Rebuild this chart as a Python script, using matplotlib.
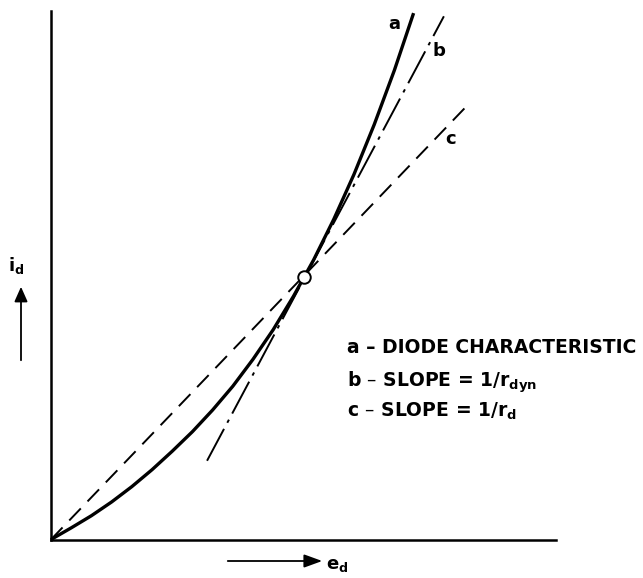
import matplotlib
matplotlib.use("Agg")
import matplotlib.pyplot as plt
from matplotlib.patches import FancyArrowPatch

plt.rcParams['font.family'] = ['DejaVu Sans']
plt.rcParams['lines.scale_dashes'] = False

# diode characteristic (e_d, i_d), axes scaled 0..100
e_curve = [0, 4, 8, 12, 16, 20, 24, 28, 32, 36, 40, 44, 48, 52, 56, 60, 64, 68, 71.8]
i_curve = [0, 2.2, 4.5, 7.1, 10.0, 13.2, 16.7, 20.4, 24.5, 29.0, 34.1, 39.7,
           46.0, 52.9, 60.6, 69.1, 78.5, 88.8, 99.6]

op_e, op_i = 50.1, 49.7          # operating point
b_e = [30.9, 77.8]               # tangent, slope 1/r_dyn
b_i = [14.9, 99.0]
c_e = [0, 82.1]                  # secant through origin, slope 1/r_d
c_i = [0, 81.8]

legend_lines = ["a – DIODE CHARACTERISTIC",
                r"b – SLOPE = 1/r$_{\mathbf{dyn}}$",
                r"c – SLOPE = 1/r$_{\mathbf{d}}$"]
legend_v = [36.4, 29.8, 24.3]

W, H = 643, 578
fig = plt.figure(figsize=(W / 100, H / 100), dpi=100)
ax = fig.add_axes([51 / W, (H - 539.5) / H, 505 / W, 528.5 / H])
ax.set_xlim(0, 100)
ax.set_ylim(0, 100)
for s in ['top', 'right']:
    ax.spines[s].set_visible(False)
for s in ['left', 'bottom']:
    ax.spines[s].set_linewidth(1.8)
ax.set_xticks([])
ax.set_yticks([])

ax.plot(e_curve, i_curve, color='black', lw=2.4, solid_capstyle='butt',
        solid_joinstyle='round', clip_on=False)
ax.plot(b_e, b_i, color='black', lw=1.4, dashes=[26, 5, 2.5, 5], clip_on=False)
ax.plot(c_e, c_i, color='black', lw=1.4, dashes=[12, 7], clip_on=False)
ax.plot([op_e], [op_i], marker='o', ms=9, mfc='white', mec='black', mew=1.4, zorder=5)

lab = dict(fontsize=13, fontweight='bold', ha='center', va='center')
ax.text(67.9, 97.5, "a", **lab)
ax.text(76.8, 92.4, "b", **lab)
ax.text(79.2, 75.7, "c", **lab)

plt.rcParams['mathtext.default'] = 'bf'
for s, v in zip(legend_lines, legend_v):
    ax.text(58.6, v, s, fontsize=13.5, fontweight='bold', ha='left', va='center',
            clip_on=False)

# axis labels with arrows
fig.text(16 / W, 1 - 266 / H, r"i$_{\mathbf{d}}$", fontsize=13, fontweight='bold',
         ha='center', va='center')
fig.add_artist(FancyArrowPatch(
    (21 / W, 1 - 363 / H), (21 / W, 1 - 284 / H), transform=fig.transFigure,
    arrowstyle='-|>,head_length=9,head_width=4', color='black', lw=1.3))
fig.add_artist(FancyArrowPatch(
    (225 / W, 1 - 561 / H), (325 / W, 1 - 561 / H), transform=fig.transFigure,
    arrowstyle='-|>,head_length=11,head_width=4', color='black', lw=1.3))
fig.text(337 / W, 1 - 565 / H, r"e$_{\mathbf{d}}$", fontsize=13, fontweight='bold',
         ha='center', va='center')

fig.savefig("out.png", dpi=100)
